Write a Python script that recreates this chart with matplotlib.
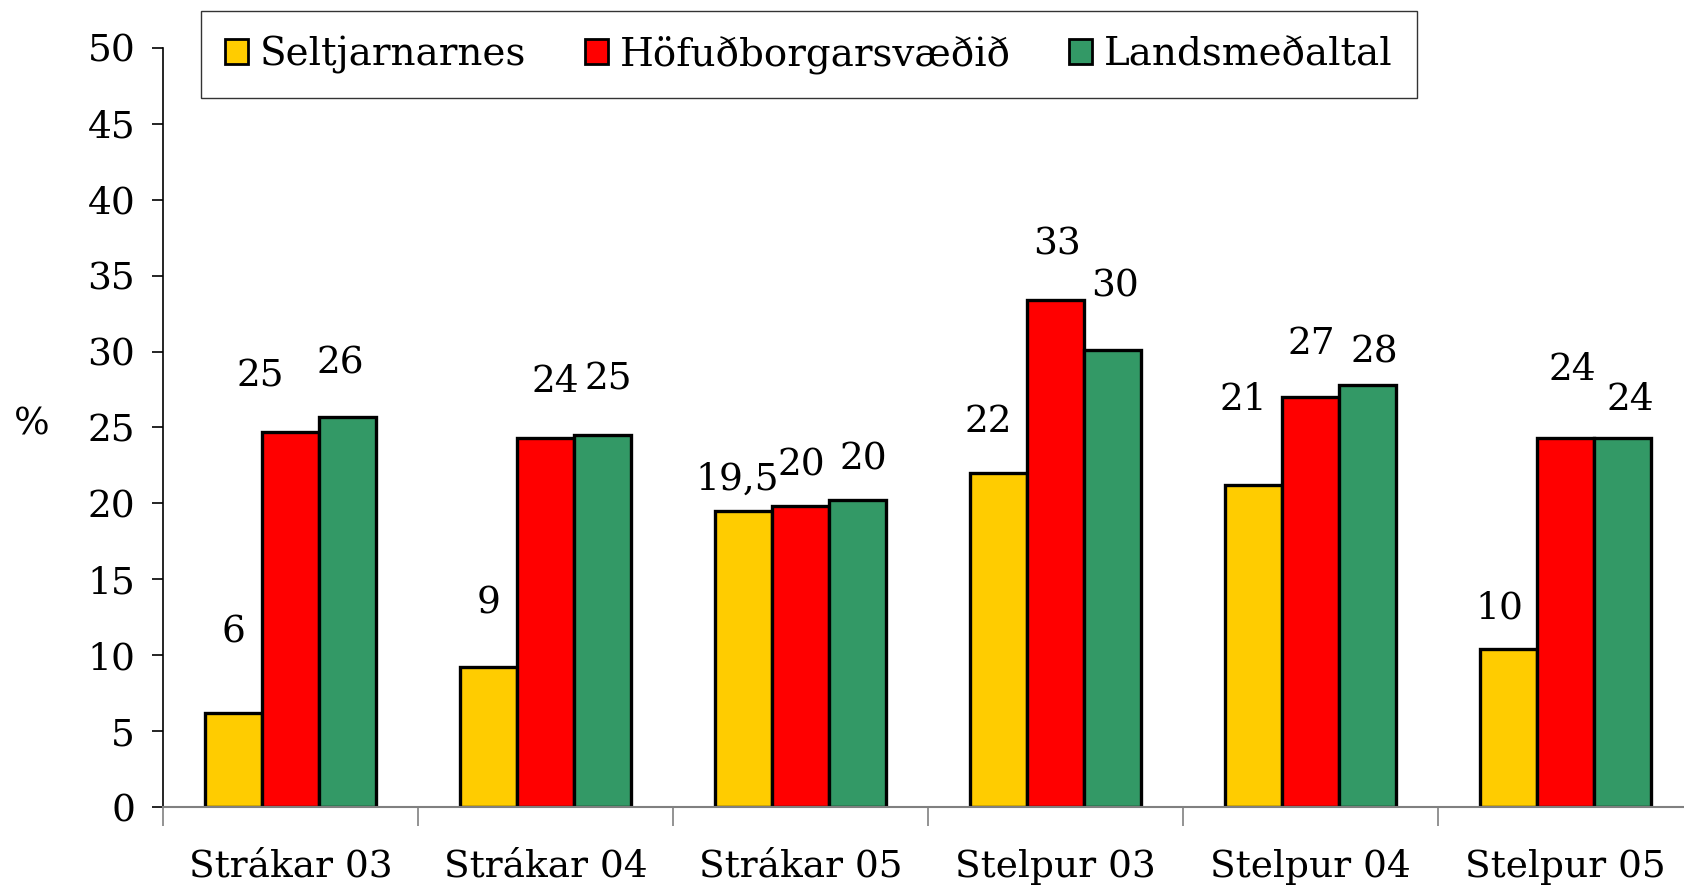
import matplotlib.pyplot as plt
import matplotlib.patches as mpatches
import numpy as np

# --- gögn ---
categories = ["Strákar 03", "Strákar 04", "Strákar 05", "Stelpur 03", "Stelpur 04", "Stelpur 05"]
series_names = ["Seltjarnarnes", "Höfuðborgarsvæðið", "Landsmeðaltal"]
seltjarnarnes = [6.2, 9.2, 19.5, 22.0, 21.2, 10.4]
hofudborg = [24.7, 24.3, 19.8, 33.4, 27.0, 24.3]
landsmedaltal = [25.7, 24.5, 20.2, 30.1, 27.8, 24.3]
label_text = [
    ["6", "9", "19,5", "22", "21", "10"],
    ["25", "24", "20", "33", "27", "24"],
    ["26", "25", "20", "30", "28", "24"],
]

COLORS = ["#FFCC00", "#FF0000", "#339966"]
FONT = "DejaVu Serif"
FS = 27
BAR_W = 0.224

# handvirk staðsetning merkja (dx, dy í pixlum yfir súlu)
nudge = [
    [(0, 80), (0, 64), (-6, 31), (-10, 51), (-10, 85), (-9, 41)],
    [(-30, 56), (10, 56), (1, 41), (1, 55), (1, 53), (7, 68)],
    [(-7, 53), (6, 56), (6, 41), (2, 64), (7, 32), (8, 38)],
]

plt.rcParams["font.family"] = [FONT, "DejaVu Sans"]

fig = plt.figure(figsize=(16.84, 8.90), dpi=100)
ax = fig.add_axes([163 / 1684, 83 / 890, 1530 / 1684, 759 / 890])

x = np.arange(len(categories))
all_series = [seltjarnarnes, hofudborg, landsmedaltal]
for i, vals in enumerate(all_series):
    xs = x + (i - 1) * BAR_W
    ax.bar(xs, vals, width=BAR_W, color=COLORS[i], edgecolor="black",
           linewidth=2.4, zorder=3)
    for j, v in enumerate(vals):
        dx, dy = nudge[i][j]
        ax.annotate(label_text[i][j], (xs[j], v), xytext=(dx, dy),
                    textcoords="offset pixels", ha="center", va="center",
                    fontsize=FS, color="black")

ax.set_xlim(-0.5, len(categories) - 0.5)
ax.set_ylim(0, 50)
ax.set_yticks(np.arange(0, 51, 5))
ax.tick_params(axis="y", labelsize=FS, length=8, width=1.2, pad=12, colors="black")

# flokkar á x-ás, strik á milli flokka
ax.set_xticks(x)
ax.set_xticklabels(categories, fontsize=FS)
ax.tick_params(axis="x", which="major", length=0, pad=30)
ax.set_xticks(np.arange(-0.5, len(categories)), minor=True)
ax.tick_params(axis="x", which="minor", length=14, width=1.2, color="#808080")

for s in ["top", "right"]:
    ax.spines[s].set_visible(False)
ax.spines["left"].set_color("black")
ax.spines["left"].set_linewidth(1.2)
ax.spines["bottom"].set_color("#808080")
ax.spines["bottom"].set_linewidth(1.5)
ax.spines["bottom"].set_zorder(4)

fig.text(32 / 1684, 1 - 425 / 890, "%", fontsize=FS, ha="center", va="center")

handles = [mpatches.Patch(facecolor=c, edgecolor="black", linewidth=2) for c in COLORS]
leg = fig.legend(handles, series_names, loc="upper left", ncol=3,
                 bbox_to_anchor=(201 / 1684, 1 - 11 / 890), borderaxespad=0,
                 fontsize=28, frameon=True, fancybox=False, borderpad=0.62,
                 handlelength=0.6, handleheight=0.6, handletextpad=0.3,
                 columnspacing=1.5)
leg.get_frame().set_edgecolor("black")
leg.get_frame().set_linewidth(1.0)

fig.savefig("out.png", dpi=100)
